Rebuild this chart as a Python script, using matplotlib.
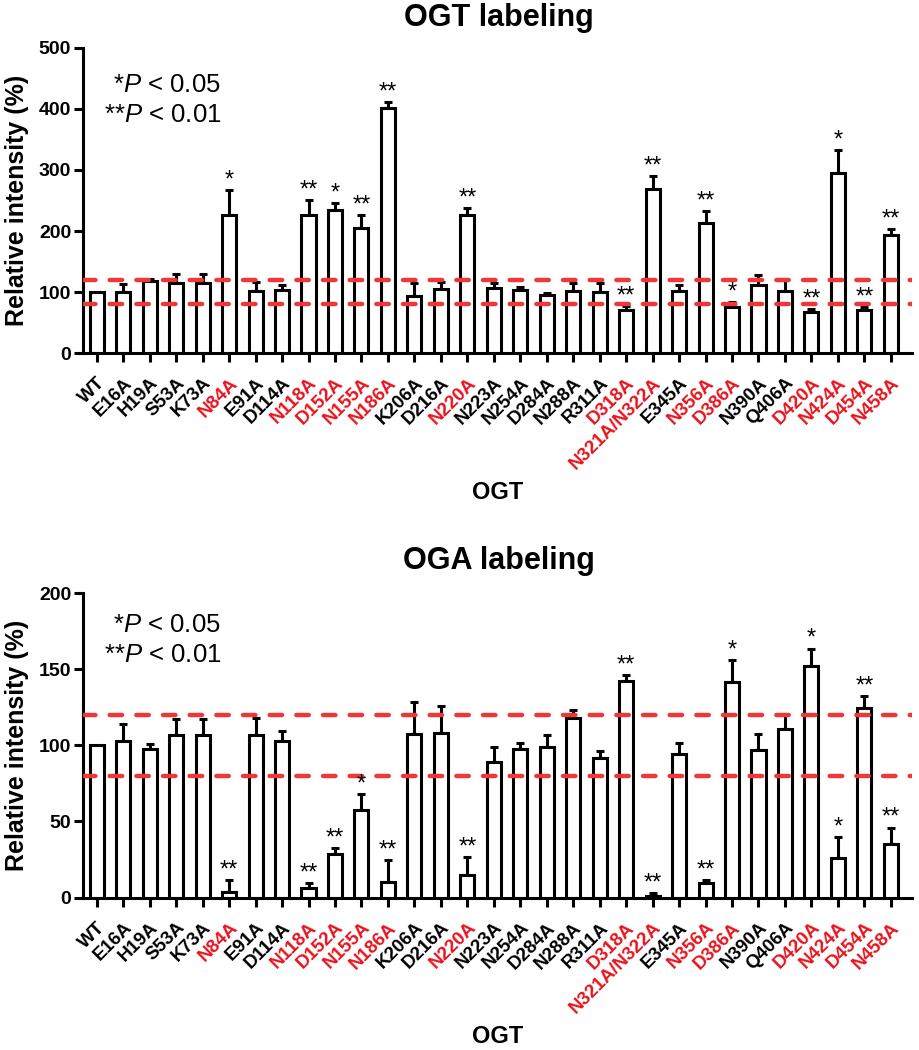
import matplotlib
matplotlib.use("Agg")
import matplotlib.pyplot as plt
import numpy as np

plt.rcParams['font.family'] = ['Liberation Sans', 'DejaVu Sans']
plt.rcParams['mathtext.fontset'] = 'custom'
plt.rcParams['mathtext.rm'] = 'Liberation Sans'
plt.rcParams['mathtext.it'] = 'Liberation Sans:italic'
plt.rcParams['mathtext.bf'] = 'Liberation Sans:bold'

labels = ["WT", "E16A", "H19A", "S53A", "K73A", "N84A", "E91A", "D114A", "N118A",
          "D152A", "N155A", "N186A", "K206A", "D216A", "N220A", "N223A", "N254A",
          "D284A", "N288A", "R311A", "D318A", "N321A/N322A", "E345A", "N356A",
          "D386A", "N390A", "Q406A", "D420A", "N424A", "D454A", "N458A"]
red_labels = ["N84A", "N118A", "D152A", "N155A", "N186A", "N220A", "D318A",
              "N321A/N322A", "N356A", "D386A", "D420A", "N424A", "D454A", "N458A"]

ogt_mean = [100, 100, 118, 115, 115, 227, 102, 103, 227, 234, 205, 401, 93, 105, 226,
            106, 104, 95, 102, 100, 71, 269, 101, 213, 76, 111, 101, 67, 295, 71, 194]
ogt_err = [0, 13, 4, 14, 14, 40, 15, 8, 23, 12, 21, 10, 22, 11, 11,
           8, 4, 3, 13, 15, 6, 21, 11, 20, 8, 17, 20, 5, 38, 4, 9]
ogt_sig = ["", "", "", "", "", "*", "", "", "**", "*", "**", "**", "", "", "**",
           "", "", "", "", "", "**", "**", "", "**", "*", "", "", "**", "*", "**", "**"]

oga_mean = [100, 103, 97.6, 106.5, 106.5, 4, 107, 103, 6.6, 28.5, 57.6, 10.5, 107.6, 108.3, 14.7,
            89, 97.8, 98.6, 118.2, 91.8, 142, 1, 94.4, 9.4, 141.6, 97, 110.7, 152.2, 26, 124.5, 35]
oga_err = [0, 11, 3.3, 11, 11, 7.5, 11, 6.5, 3, 4, 10.6, 14, 20.6, 17.3, 12,
           10, 3.5, 8, 5, 4.8, 4.4, 2, 7, 2.2, 14.3, 10.3, 10, 11.3, 14, 7.7, 11]
oga_sig = ["", "", "", "", "", "**", "", "", "**", "**", "*", "**", "", "", "**",
           "", "", "", "", "", "**", "**", "", "**", "*", "", "", "*", "*", "**", "**"]

thresholds = [80, 120]

fig = plt.figure(figsize=(9.19, 10.5), dpi=100)
ax1 = fig.add_axes([0.0903, 0.6638, 0.9021, 0.2905])
ax2 = fig.add_axes([0.0903, 0.1451, 0.9021, 0.2901])

LW = 2.2
RED = '#ee3838'


def draw(ax, mean, err, sig, ymax, ystep, title, title_y, note_y):
    x = np.arange(len(labels))
    ax.bar(x, mean, width=0.53, color='white', edgecolor='black', linewidth=LW, zorder=2)
    e = np.array(err, dtype=float)
    mask = e > 0
    ax.errorbar(x[mask], np.array(mean)[mask], yerr=[np.zeros(mask.sum()), e[mask]],
                fmt='none', ecolor='black', elinewidth=LW, capsize=3, capthick=LW, zorder=1)
    for xi, m, er, s in zip(x, mean, err, sig):
        if s:
            ax.annotate(s, (xi, m + er), xytext=(0, -1), textcoords='offset points',
                        ha='center', va='bottom', fontsize=17, color='black', zorder=4)
    for t in thresholds:
        ax.axhline(t, color=RED, linewidth=3.2, linestyle=(0, (2.8, 3.2)),
                   dash_capstyle='round', zorder=3)
    ax.set_xlim(-0.52, 30.8)
    ax.set_ylim(0, ymax)
    ax.set_yticks(np.arange(0, ymax + 1, ystep))
    ax.set_xticks(x)
    ax.set_xticklabels(labels, rotation=45, ha='right', va='top', rotation_mode='anchor',
                       fontsize=13.5, fontweight='bold')
    for tl in ax.get_xticklabels():
        if tl.get_text() in red_labels:
            tl.set_color('#e8141e')
    for tl in ax.get_yticklabels():
        tl.set_fontweight('bold')
        tl.set_fontsize(14)
    ax.spines['top'].set_visible(False)
    ax.spines['right'].set_visible(False)
    ax.spines['left'].set_linewidth(LW)
    ax.spines['bottom'].set_linewidth(LW)
    ax.tick_params(axis='both', width=LW, length=6.5, direction='out')
    ax.tick_params(axis='x', pad=9)
    ax.tick_params(axis='y', pad=2)
    ax.set_ylabel('Relative intensity (%)', fontsize=18, fontweight='bold', labelpad=7)
    ax.set_xlabel('OGT', fontsize=17, fontweight='bold', labelpad=6)
    ax.text(0.1665, note_y[0], '*$P$ < 0.05', transform=ax.transAxes, ha='right',
            va='center', fontsize=18.5)
    ax.text(0.1665, note_y[1], '**$P$ < 0.01', transform=ax.transAxes, ha='right',
            va='center', fontsize=18.5)
    fig.text(0.543, title_y, title, ha='center', va='center', fontsize=22, fontweight='bold')


draw(ax1, ogt_mean, ogt_err, ogt_sig, 500, 100, 'OGT labeling', 0.983, (0.879, 0.780))
draw(ax2, oga_mean, oga_err, oga_sig, 200, 50, 'OGA labeling', 0.466, (0.895, 0.797))

fig.savefig('out.png', dpi=100)
